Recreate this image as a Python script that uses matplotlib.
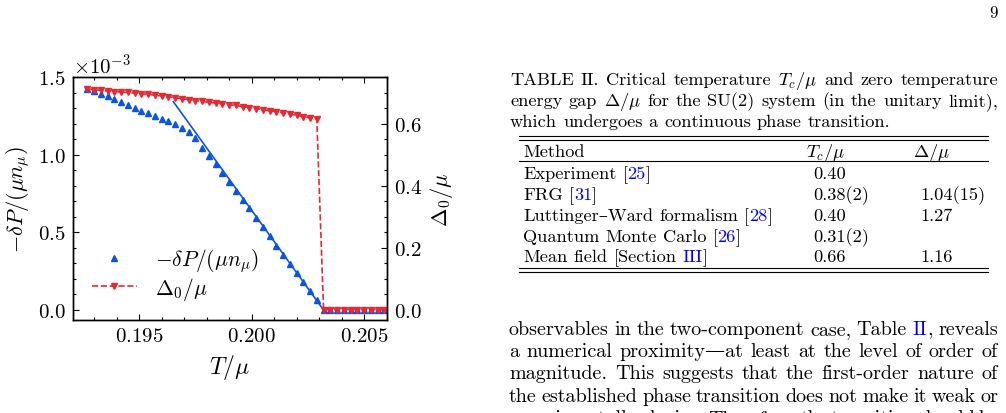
import re
import matplotlib
matplotlib.use("Agg")
import matplotlib.pyplot as plt
from matplotlib.lines import Line2D
from matplotlib.ticker import MultipleLocator

plt.rcParams['font.family'] = ['cmr10', 'DejaVu Serif']
plt.rcParams['mathtext.fontset'] = 'cm'
plt.rcParams['axes.formatter.use_mathtext'] = True

W, H = 1006, 414

# temperature grid T/mu of the data points
T = [0.1927, 0.1930, 0.1933, 0.1936, 0.1939, 0.1942, 0.1945, 0.1948, 0.1951,
     0.1954, 0.1957, 0.1960, 0.1963, 0.1966, 0.1969, 0.1972, 0.1975, 0.1978,
     0.1981, 0.1984, 0.1987, 0.1990, 0.1993, 0.1996, 0.1999, 0.2002, 0.2005,
     0.2008, 0.2011, 0.2014, 0.2017, 0.2020, 0.2023, 0.2026, 0.2029, 0.2032,
     0.2035, 0.2038, 0.2041, 0.2044, 0.2047, 0.2050, 0.2053, 0.2056, 0.2059]
# -dP/(mu n_mu) in units of 1e-3
dP = [1.425, 1.410, 1.393, 1.377, 1.360, 1.341, 1.322, 1.302, 1.285,
      1.267, 1.250, 1.233, 1.215, 1.196, 1.175, 1.150, 1.110, 1.046,
      0.994, 0.940, 0.884, 0.827, 0.769, 0.711, 0.654, 0.595, 0.535,
      0.475, 0.414, 0.355, 0.298, 0.238, 0.178, 0.119, 0.060, 0.0,
      0.0, 0.0, 0.0, 0.0, 0.0, 0.0, 0.0, 0.0, 0.0]
# Delta_0/mu
gap = [0.712, 0.710, 0.708, 0.706, 0.704, 0.702, 0.701, 0.699, 0.697,
       0.695, 0.692, 0.690, 0.687, 0.684, 0.681, 0.678, 0.675, 0.672,
       0.669, 0.667, 0.665, 0.662, 0.659, 0.655, 0.652, 0.649, 0.646,
       0.642, 0.639, 0.635, 0.631, 0.627, 0.623, 0.619, 0.615, 0.0,
       0.0, 0.0, 0.0, 0.0, 0.0, 0.0, 0.0, 0.0, 0.0]
# straight line fitted to dP near T_c
fit_T = [0.19652, 0.20319]
fit_dP = [1.343, 0.0]

caption = ["TABLE II. Critical temperature $T_c/\\mu$ and zero temperature",
           "energy gap $\\Delta/\\mu$ for the SU(2) system (in the unitary limit),",
           "which undergoes a continuous phase transition."]
head = ["Method", "$T_c/\\mu$", "$\\Delta/\\mu$"]
methods = ["Experiment [{25}]", "FRG [{31}]", "Luttinger–Ward formalism [{28}]",
           "Quantum Monte Carlo [{26}]", "Mean field [Section {III}]"]
tc = ["0.40", "0.38(2)", "0.40", "0.31(2)", "0.66"]
delta = ["", "1.04(15)", "1.27", "", "1.16"]
paragraph = ["observables in the two-component case, Table {II}, reveals",
             "a numerical proximity—at least at the level of order of",
             "magnitude. This suggests that the first-order nature of",
             "the established phase transition does not make it weak or",
             "experimentally elusive. Therefore, the transition should be"]

blue = '#0b55e0'
red = '#e32b36'
link = '#0000ff'

fig = plt.figure(figsize=(W / 100, H / 100), dpi=100)
ax1 = fig.add_axes([72.7 / W, 1 - 321 / H, (387 - 72.7) / W, (321 - 78.3) / H])
ax2 = ax1.twinx()

l1, = ax1.plot(T, [v * 1e-3 for v in dP], '^', color=blue, ms=4.3,
               label=r'$-\delta P/(\mu n_\mu)$')
ax1.plot(fit_T, [v * 1e-3 for v in fit_dP], '-', color=blue, lw=1.2)
l2, = ax2.plot(T, gap, '--v', color=red, ms=4.3, lw=1.2, label=r'$\Delta_0/\mu$')

ax1.set_xlim(0.19205, 0.20602)
ax1.set_ylim(-0.0665e-3, 1.5e-3)
ax2.set_ylim(-0.0333, 0.75)
ax1.ticklabel_format(axis='y', style='sci', scilimits=(0, 0))
ax1.xaxis.set_major_locator(MultipleLocator(0.005))
ax1.xaxis.set_minor_locator(MultipleLocator(0.001))
ax1.yaxis.set_major_locator(MultipleLocator(0.5e-3))
ax1.yaxis.set_minor_locator(MultipleLocator(0.1e-3))
ax2.yaxis.set_major_locator(MultipleLocator(0.2))
ax2.yaxis.set_minor_locator(MultipleLocator(0.05))

ax1.tick_params(which='both', direction='in', top=True, right=False, labelsize=15, width=0.8, pad=5)
ax2.tick_params(which='both', direction='in', right=True, labelsize=15, width=0.8, pad=5)
for a in (ax1, ax2):
    a.tick_params(which='major', length=4.5)
    a.tick_params(which='minor', length=2.3)
    for s in a.spines.values():
        s.set_linewidth(1.0)
ax1.yaxis.get_offset_text().set_fontsize(15)

ax1.set_xlabel(r'$T/\mu$', fontsize=17, labelpad=5)
ax1.set_ylabel(r'$-\delta P/(\mu n_\mu)$', fontsize=16)
ax2.set_ylabel(r'$\Delta_0/\mu$', fontsize=16)

ax2.legend([l1, l2], [l1.get_label(), l2.get_label()], loc='lower left',
           bbox_to_anchor=(91.7 / W, 1 - 303 / H), bbox_transform=fig.transFigure,
           frameon=False, fontsize=15.5, handlelength=2.1, handletextpad=0.85,
           borderpad=0, borderaxespad=0, labelspacing=0.05)

fig.canvas.draw()
rend = fig.canvas.get_renderer()


def pieces(word):
    parts = re.split(r'[{}]', word)
    return [(p, link if k % 2 else 'black') for k, p in enumerate(parts) if p]


def text_w(s, size):
    t = fig.text(0, 0, s, fontsize=size)
    w = t.get_window_extent(rend).width
    t.remove()
    return w


def put_line(line, x0, y, size, x1=None):
    words = [[(p, c, text_w(p, size)) for p, c in pieces(wd)] for wd in line.split()]
    total = sum(w for wd in words for _, _, w in wd)
    if x1 is None or len(words) < 2:
        sp = size * 100 / 72 * 0.333
    else:
        sp = (x1 - x0 - total) / (len(words) - 1)
    x = x0
    for wd in words:
        for p, c, w in wd:
            fig.text(x / W, 1 - y / H, p, fontsize=size, color=c, va='baseline', ha='left')
            x += w
        x += sp


fig.text(998 / W, 1 - 18 / H, '9', fontsize=12, ha='right', va='baseline')

small = 13.2
large = 14.5

# caption
cap_y = [85, 105.7, 126.7]
for i, line in enumerate(caption):
    put_line(line, 510, cap_y[i], small, 998 if i < 2 else None)

# table
for yy in [137.3, 141.3, 161.7, 269.3, 273.3]:
    fig.add_artist(Line2D([519 / W, 988 / W], [1 - yy / H] * 2, color='black', lw=0.8))
put_line(head[0], 523, 156.7, small)
put_line(head[1], 806, 156.7, small)
put_line(head[2], 913, 156.7, small)
row_y = [179, 200, 220.7, 241.7, 261.7]
for i in range(len(methods)):
    put_line(methods[i], 523, row_y[i], small)
    put_line(tc[i], 813, row_y[i], small)
    if delta[i]:
        put_line(delta[i], 920, row_y[i], small)

# running text below the table
par_y = [335, 356.7, 379.3, 401.7, 424]
for i, line in enumerate(paragraph):
    put_line(line, 509, par_y[i], large, 998)

fig.savefig('out.png', dpi=100)
